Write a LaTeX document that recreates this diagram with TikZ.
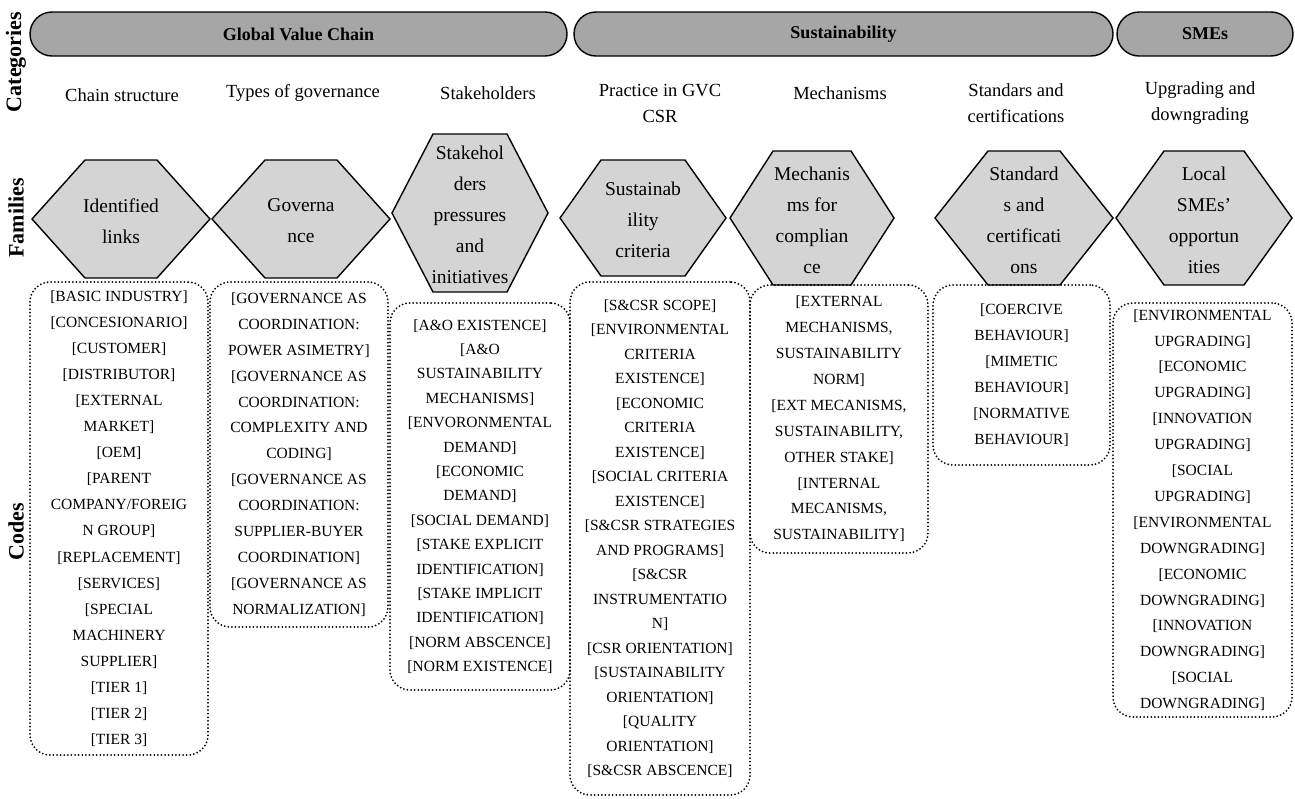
\documentclass[tikz,border=0pt]{standalone}
\usepackage{fontspec}
\setmainfont{Liberation Serif}
\usetikzlibrary{positioning}

\tikzset{
    banner/.style={draw, line width=1.4pt, fill=black!35, rounded corners=22pt, font=\fontsize{18}{20}\selectfont\bfseries},
    sidelabel/.style={rotate=90, font=\fontsize{22}{24}\selectfont\bfseries},
    catlabel/.style={align=center, font=\fontsize{18.5}{26}\selectfont},
    famtext/.style={align=center, font=\fontsize{19.5}{31}\selectfont},
    codebox/.style={draw, line width=2pt, dash pattern=on 0pt off 3.6pt, line cap=round, rounded corners=20pt,
                    align=center, inner sep=0pt, font=\fontsize{15.5}{#1}\selectfont},
    codebox/.default=25.9
}

\begin{document}
\begin{tikzpicture}[x=1pt, y=-1pt]
    \useasboundingbox (0,0) rectangle (1295,798);
    % category banners
    \node[banner, minimum width=537pt, minimum height=44pt] (gvc) at (298.5,34) {Global Value Chain};
    \node[banner, minimum width=539pt, minimum height=44pt] (sus) at (843.5,34) {Sustainability};
    \node[banner, minimum width=176pt, minimum height=44pt] (sme) at (1205,34) {SMEs};
    % side labels
    \node[sidelabel] (lcat) at (16,62) {Categories};
    \node[sidelabel] (lfam) at (16,218) {Families};
    \node[sidelabel] (lcod) at (16,532) {Codes};
    % categories
    \node[catlabel] (c1) at (122,95) {Chain structure};
    \node[catlabel] (c2) at (303,93) {Types of governance};
    \node[catlabel] (c3) at (488,93) {Stakeholders};
    \node[catlabel] (c4) at (660,103) {Practice in GVC\\CSR};
    \node[catlabel] (c5) at (840,93) {Mechanisms};
    \node[catlabel] (c6) at (1016,103) {Standars and\\certifications};
    \node[catlabel] (c7) at (1200,103) {Upgrading and\\downgrading};
    % families
    \foreach \cx/\cy/\hw/\tw/\hh/\i/\txt in {
        121/219/89/36/59/1/{Identified\\links},
        301/219/89/36/59/2/{Governa\\nce},
        470/213/78/37/79/3/{Stakehol\\ders\\pressures\\and\\initiatives},
        643/218/83/42/58/4/{Sustainab\\ility\\criteria},
        812/218/82/39/67/5/{Mechanis\\ms for\\complian\\ce},
        1024/218/89/36/67/6/{Standard\\s and\\certificati\\ons},
        1204/218/88/40/67/7/{Local\\SMEs'\\opportun\\ities}}{
        \filldraw[fill=black!17, line width=1.4pt, line join=miter]
            (\cx-\hw,\cy) -- (\cx-\tw,\cy-\hh) -- (\cx+\tw,\cy-\hh) -- (\cx+\hw,\cy)
            -- (\cx+\tw,\cy+\hh) -- (\cx-\tw,\cy+\hh) -- cycle;
        \node[famtext] (f\i) at (\cx,\cy+2) {\txt};
    }
    % codes
    \node[codebox=26.1, minimum width=178pt, minimum height=473pt] (k1) at (119,518.5)
        {[BASIC INDUSTRY]\\{}[CONCESIONARIO]\\{}[CUSTOMER]\\{}[DISTRIBUTOR]\\{}[EXTERNAL\\MARKET]\\{}[OEM]\\{}[PARENT\\COMPANY/FOREIG\\N GROUP]\\{}[REPLACEMENT]\\{}[SERVICES]\\{}[SPECIAL\\MACHINERY\\SUPPLIER]\\{}[TIER 1]\\{}[TIER 2]\\{}[TIER 3]};
    \node[codebox, minimum width=178pt, minimum height=345pt] (k2) at (299,454.5)
        {[GOVERNANCE AS\\COORDINATION:\\POWER ASIMETRY]\\{}[GOVERNANCE AS\\COORDINATION:\\COMPLEXITY AND\\CODING]\\{}[GOVERNANCE AS\\COORDINATION:\\SUPPLIER-BUYER\\COORDINATION]\\{}[GOVERNANCE AS\\NORMALIZATION]};
    \node[codebox=24.4, minimum width=180pt, minimum height=387pt] (k3) at (480,496.5)
        {[A\&O EXISTENCE]\\{}[A\&O\\SUSTAINABILITY\\MECHANISMS]\\{}[ENVORONMENTAL\\DEMAND]\\{}[ECONOMIC\\DEMAND]\\{}[SOCIAL DEMAND]\\{}[STAKE EXPLICIT\\IDENTIFICATION]\\{}[STAKE IMPLICIT\\IDENTIFICATION]\\{}[NORM ABSCENCE]\\{}[NORM EXISTENCE]};
    \node[codebox=24.5, minimum width=180pt, minimum height=513pt] (k4) at (660,538.5)
        {[S\&CSR SCOPE]\\{}[ENVIRONMENTAL\\CRITERIA\\EXISTENCE]\\{}[ECONOMIC\\CRITERIA\\EXISTENCE]\\{}[SOCIAL CRITERIA\\EXISTENCE]\\{}[S\&CSR STRATEGIES\\AND PROGRAMS]\\{}[S\&CSR\\INSTRUMENTATIO\\N]\\{}[CSR ORIENTATION]\\{}[SUSTAINABILITY\\ORIENTATION]\\{}[QUALITY\\ORIENTATION]\\{}[S\&CSR ABSCENCE]};
    \node[codebox, minimum width=178pt, minimum height=268pt] (k5) at (839,419)
        {[EXTERNAL\\MECHANISMS,\\SUSTAINABILITY\\NORM]\\{}[EXT MECANISMS,\\SUSTAINABILITY,\\OTHER STAKE]\\{}[INTERNAL\\MECANISMS,\\SUSTAINABILITY]};
    \node[codebox, minimum width=177pt, minimum height=180pt] (k6) at (1021.5,375)
        {[COERCIVE\\BEHAVIOUR]\\{}[MIMETIC\\BEHAVIOUR]\\{}[NORMATIVE\\BEHAVIOUR]};
    \node[codebox, minimum width=179pt, minimum height=414pt] (k7) at (1202.5,510)
        {[ENVIRONMENTAL\\UPGRADING]\\{}[ECONOMIC\\UPGRADING]\\{}[INNOVATION\\UPGRADING]\\{}[SOCIAL\\UPGRADING]\\{}[ENVIRONMENTAL\\DOWNGRADING]\\{}[ECONOMIC\\DOWNGRADING]\\{}[INNOVATION\\DOWNGRADING]\\{}[SOCIAL\\DOWNGRADING]};
\end{tikzpicture}
\end{document}
